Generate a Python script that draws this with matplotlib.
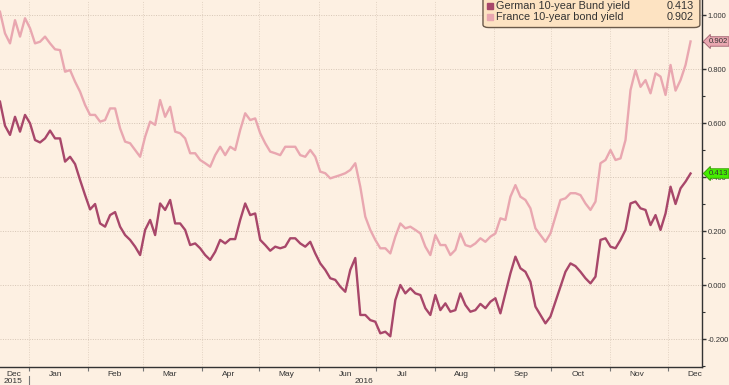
import numpy as np
import pandas as pd
import matplotlib.pyplot as plt
import matplotlib.dates as mdates
from matplotlib.ticker import MultipleLocator, FormatStrFormatter, FixedLocator
from matplotlib.patches import FancyBboxPatch
from matplotlib.transforms import blended_transform_factory

# =========================
# Data
# =========================
start_date = "2015-12-17"
end_date = "2016-12-13"

german = [0.679, 0.59, 0.556, 0.623, 0.568, 0.630, 0.599, 0.537, 0.528, 0.543,
          0.572, 0.543, 0.543, 0.457, 0.475, 0.448, 0.389, 0.333, 0.280, 0.300,
          0.228, 0.216, 0.259, 0.270, 0.216, 0.185, 0.167, 0.142, 0.111, 0.204,
          0.241, 0.185, 0.302, 0.278, 0.315, 0.228, 0.228, 0.204, 0.148, 0.154,
          0.136, 0.111, 0.093, 0.123, 0.167, 0.154, 0.170, 0.170, 0.241, 0.302,
          0.259, 0.265, 0.167, 0.148, 0.127, 0.142, 0.136, 0.142, 0.173, 0.173,
          0.154, 0.142, 0.160, 0.117, 0.080, 0.056, 0.025, 0.019, -0.006, -0.025,
          0.056, 0.100, -0.111, -0.111, -0.130, -0.136, -0.179, -0.173, -0.190, -0.056,
          0.000, -0.031, -0.012, -0.031, -0.037, -0.086, -0.111, -0.037, -0.093, -0.068,
          -0.099, -0.093, -0.031, -0.074, -0.099, -0.093, -0.070, -0.086, -0.062, -0.049,
          -0.105, -0.031, 0.043, 0.105, 0.062, 0.049, 0.012, -0.080, -0.111, -0.142,
          -0.117, -0.062, -0.006, 0.049, 0.080, 0.070, 0.049, 0.025, 0.006, 0.031,
          0.167, 0.173, 0.142, 0.136, 0.167, 0.204, 0.302, 0.309, 0.284, 0.278,
          0.222, 0.259, 0.204, 0.265, 0.364, 0.300, 0.358, 0.383, 0.413]

france = [1.012, 0.932, 0.895, 0.981, 0.920, 0.988, 0.951, 0.895, 0.901, 0.920,
          0.895, 0.873, 0.870, 0.790, 0.796, 0.753, 0.716, 0.667, 0.630, 0.630,
          0.605, 0.611, 0.654, 0.654, 0.580, 0.531, 0.525, 0.500, 0.475, 0.549,
          0.605, 0.593, 0.685, 0.623, 0.660, 0.568, 0.562, 0.543, 0.488, 0.488,
          0.463, 0.451, 0.438, 0.481, 0.512, 0.481, 0.512, 0.500, 0.574, 0.636,
          0.611, 0.617, 0.562, 0.525, 0.494, 0.488, 0.481, 0.512, 0.512, 0.512,
          0.481, 0.475, 0.500, 0.475, 0.420, 0.414, 0.395, 0.401, 0.407, 0.414,
          0.426, 0.451, 0.364, 0.253, 0.204, 0.167, 0.136, 0.136, 0.117, 0.179,
          0.228, 0.210, 0.216, 0.204, 0.191, 0.142, 0.111, 0.185, 0.148, 0.148,
          0.111, 0.130, 0.191, 0.148, 0.142, 0.154, 0.173, 0.160, 0.179, 0.191,
          0.247, 0.241, 0.327, 0.370, 0.327, 0.315, 0.284, 0.210, 0.185, 0.160,
          0.191, 0.253, 0.315, 0.321, 0.340, 0.340, 0.333, 0.302, 0.278, 0.309,
          0.451, 0.463, 0.500, 0.463, 0.469, 0.537, 0.722, 0.796, 0.734, 0.759,
          0.710, 0.784, 0.772, 0.704, 0.815, 0.720, 0.759, 0.815, 0.902]

labels = ["German 10-year Bund yield", "France 10-year bond yield"]
last_values = [german[-1], france[-1]]

dates = pd.date_range(start_date, end_date, periods=len(german))

# =========================
# Style
# =========================
plt.rcParams['font.family'] = ['Liberation Sans', 'DejaVu Sans']
bg = "#fdf0e2"
c_de = "#a8476a"
c_fr = "#e9a7b0"
txt = "#333333"

fig = plt.figure(figsize=(7.29, 3.85), dpi=100, facecolor=bg)
ax = fig.add_axes([0, 18/385, 702/729, 367/385], facecolor=bg)

ax.plot(dates, france, color=c_fr, lw=1.7, zorder=3)
ax.plot(dates, german, color=c_de, lw=1.7, zorder=4)

ax.set_xlim(pd.Timestamp("2015-12-17"), pd.Timestamp("2016-12-19"))
ax.set_ylim(-0.3037, 1.0556)

# y axis on the right
ax.yaxis.tick_right()
ax.yaxis.set_major_locator(MultipleLocator(0.2))
ax.yaxis.set_minor_locator(MultipleLocator(0.1))
ax.yaxis.set_major_formatter(FormatStrFormatter("%.3f"))
ax.tick_params(axis='y', which='major', length=3, width=1, color=txt,
               labelsize=5.5, labelcolor=txt, pad=1)
ax.tick_params(axis='y', which='minor', length=2, width=0.8, color=txt)

# x axis: labels mid-month, ticks at month starts
mid = [pd.Timestamp("2015-12-24")] + list(pd.date_range("2016-01-01", "2016-12-01", freq="MS") + pd.Timedelta(days=14))
ax.xaxis.set_major_locator(FixedLocator(mdates.date2num(mid)))
ax.xaxis.set_major_formatter(mdates.DateFormatter("%b"))
ax.xaxis.set_minor_locator(mdates.MonthLocator())
ax.tick_params(axis='x', which='major', length=0, labelsize=6, labelcolor=txt, pad=3)
ax.tick_params(axis='x', which='minor', length=3, width=0.8, color="#777777")

ax.grid(True, axis='y', which='major', color="#d6c6b6", ls=(0, (1, 1.5)), lw=0.7)
ax.grid(True, axis='x', which='minor', color="#e3d3c3", ls=(0, (1, 1.5)), lw=0.7)

for s in ['left', 'top']:
    ax.spines[s].set_visible(False)
for s in ['right', 'bottom']:
    ax.spines[s].set_color(txt)
    ax.spines[s].set_linewidth(1)

# year labels
tr = blended_transform_factory(ax.transData, ax.transAxes)
ax.text(pd.Timestamp("2015-12-24"), -0.040, "2015", transform=tr, ha='center', va='center',
        fontsize=6, color=txt)
ax.text(pd.Timestamp("2016-06-25"), -0.040, "2016", transform=tr, ha='center', va='center',
        fontsize=6, color=txt)
ax.plot([pd.Timestamp("2016-01-01")] * 2, [-0.024, -0.052], transform=tr, color="#777777",
        lw=0.8, clip_on=False)

# legend box
box = FancyBboxPatch((0.688, 0.925), 0.309, 0.2, boxstyle="round,pad=0,rounding_size=0.008",
                     transform=ax.transAxes, facecolor="#fde3c2", edgecolor="#6b5a4a",
                     lw=1, zorder=6)
ax.add_patch(box)
for i, (lab, val, col) in enumerate(zip(labels, last_values, [c_de, c_fr])):
    yy = 0.984 - i * 0.029
    ax.plot([0.6975], [yy], marker='s', ms=5, color=col, transform=ax.transAxes, zorder=7)
    ax.text(0.706, yy, lab, transform=ax.transAxes, va='center', ha='left',
            fontsize=7.8, color=txt, zorder=7)
    ax.text(0.988, yy, f"{val:.3f}", transform=ax.transAxes, va='center', ha='right',
            fontsize=7.8, color=txt, zorder=7)

# last value tags on the right axis
tr2 = blended_transform_factory(ax.transAxes, ax.transData)
ax.text(1.009, france[-1], f"{france[-1]:.3f}", transform=tr2, va='center', ha='left',
        fontsize=5.6, color=txt, zorder=8,
        bbox=dict(boxstyle="larrow,pad=0.16", fc=c_fr, ec="#a06070", lw=0.6))
ax.text(1.009, german[-1], f"{german[-1]:.3f}", transform=tr2, va='center', ha='left',
        fontsize=5.6, color=txt, zorder=8,
        bbox=dict(boxstyle="larrow,pad=0.16", fc="#44ee00", ec="#339900", lw=0.6))

fig.savefig("out.png", dpi=100, facecolor=bg)
